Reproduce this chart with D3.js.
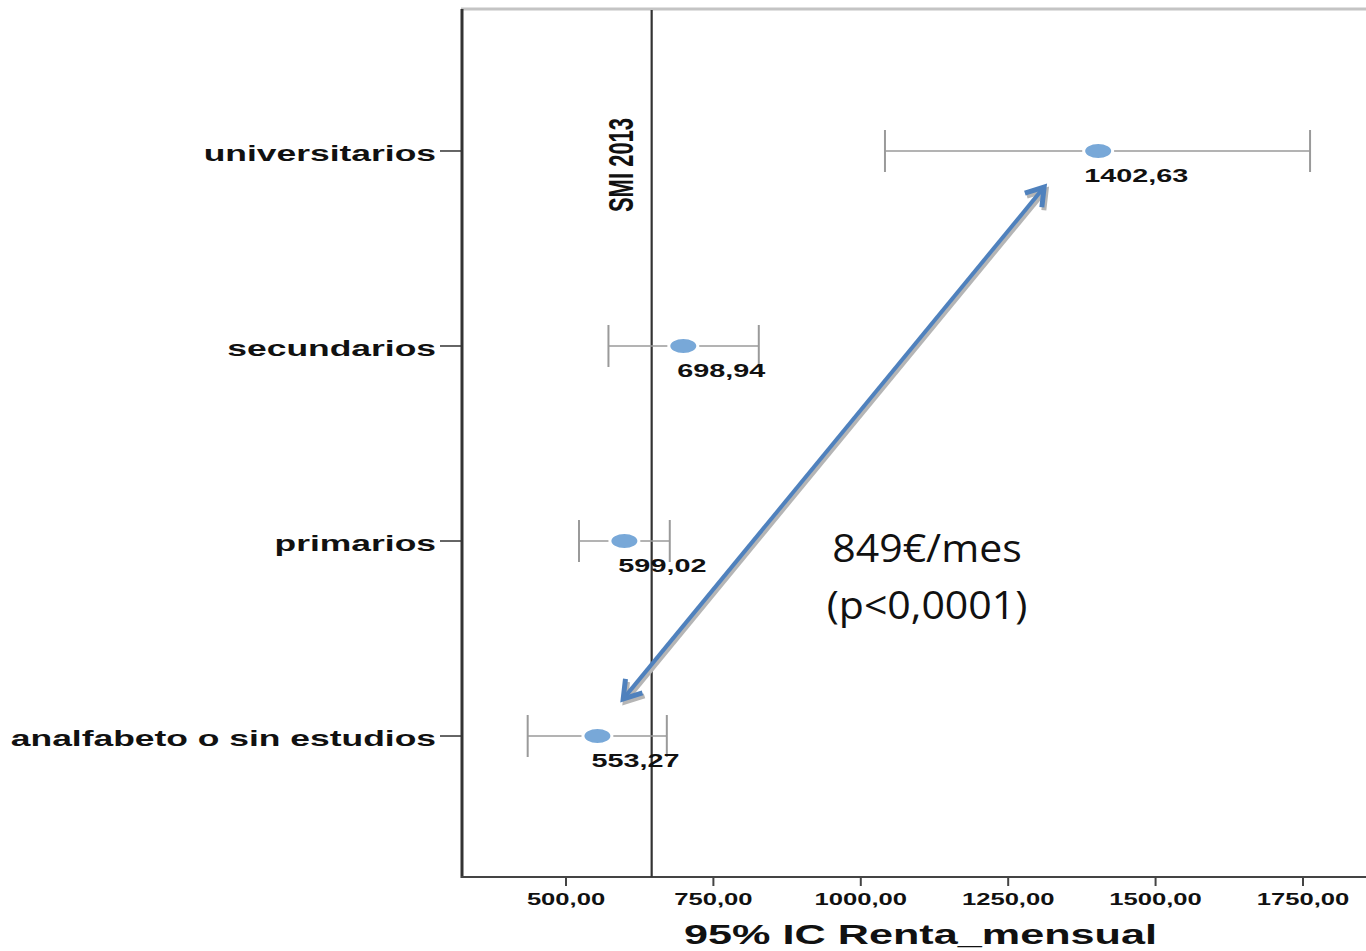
<!DOCTYPE html>
<html><head><meta charset="utf-8">
<script src="https://cdn.jsdelivr.net/npm/d3@7"></script>
<style>body{margin:0;background:#fff;}svg{display:block;}</style>
</head><body>
<svg id="c" width="1366" height="951"></svg>
<script>
// ---- data ----
const categories = ["universitarios", "secundarios", "primarios", "analfabeto o sin estudios"];
const means = [1402.63, 698.94, 599.02, 553.27];
const meanLabels = ["1402,63", "698,94", "599,02", "553,27"];
const ciLow = [1041, 572, 522, 435];
const ciHigh = [1762, 827, 676, 671];
const xTicks = [500, 750, 1000, 1250, 1500, 1750];
const xTickLabels = ["500,00", "750,00", "1000,00", "1250,00", "1500,00", "1750,00"];
const smiValue = 645.30;
const smiLabel = "SMI 2013";
const xTitle = "95% IC Renta_mensual";
const noteLines = ["849€/mes", "(p<0,0001)"];
const arrowFromX = 1311, arrowToX = 597;

// ---- layout ----
const svg = d3.select("#c");
const L = 461, R = 1366, T = 10, B = 877;
const K = 1.6; // horizontal stretch of the original picture
const x = d3.scaleLinear().domain([321.9, 1856.9]).range([L, R]);
const y = d3.scalePoint().domain(categories).range([T, B]).padding(0.723);
const step = y.step();
const fontS = "'Liberation Sans', Arial, sans-serif";

function stretchedText(g, tx, ty, txt, size, anchor, k) {
  return g.append("text")
    .attr("transform", `translate(${tx},${ty}) scale(${k || K},1)`)
    .attr("font-family", fontS).attr("font-weight", "bold")
    .attr("font-size", size).attr("fill", "#111")
    .attr("text-anchor", anchor).text(txt);
}

// frame
svg.append("line").attr("x1", L).attr("x2", R).attr("y1", T - 1).attr("y2", T - 1)
  .attr("stroke", "#c4c4c4").attr("stroke-width", 3);
svg.append("line").attr("x1", L + 1).attr("x2", L + 1).attr("y1", T - 1).attr("y2", B + 1)
  .attr("stroke", "#333").attr("stroke-width", 3);
svg.append("line").attr("x1", L).attr("x2", R).attr("y1", B).attr("y2", B)
  .attr("stroke", "#444").attr("stroke-width", 2);

// SMI line
svg.append("line").attr("x1", x(smiValue)).attr("x2", x(smiValue)).attr("y1", T).attr("y2", B)
  .attr("stroke", "#333").attr("stroke-width", 2.2);
svg.append("text")
  .attr("transform", `translate(${x(smiValue) - 19},${y(categories[0]) + 14}) scale(${K},1) rotate(-90)`)
  .attr("font-family", fontS).attr("font-weight", "bold").attr("font-size", 22)
  .attr("fill", "#111").attr("text-anchor", "middle").text(smiLabel);

// x axis
const xg = svg.append("g");
xTicks.forEach((v, i) => {
  xg.append("line").attr("x1", x(v)).attr("x2", x(v)).attr("y1", B).attr("y2", B + 9)
    .attr("stroke", "#444").attr("stroke-width", 2);
  stretchedText(xg, x(v), B + 28, xTickLabels[i], 16, "middle");
});
stretchedText(svg, (L + R) / 2 + 7, B + 67, xTitle, 27, "middle");

// y axis categories
categories.forEach((c, i) => {
  svg.append("line").attr("x1", L - 21).attr("x2", L).attr("y1", y(c)).attr("y2", y(c))
    .attr("stroke", "#333").attr("stroke-width", 1.5);
  stretchedText(svg, L - 25, y(c) + 10, c, 22.5, "end", 1.575);
});

// error bars
const eb = svg.append("g");
categories.forEach((c, i) => {
  const yy = y(c);
  eb.append("line").attr("x1", x(ciLow[i])).attr("x2", x(ciHigh[i])).attr("y1", yy).attr("y2", yy)
    .attr("stroke", "#9a9a9a").attr("stroke-width", 1.6);
  [ciLow[i], ciHigh[i]].forEach(v => {
    eb.append("line").attr("x1", x(v)).attr("x2", x(v)).attr("y1", yy - 21).attr("y2", yy + 21)
      .attr("stroke", "#9a9a9a").attr("stroke-width", 2);
  });
  eb.append("ellipse").attr("cx", x(means[i])).attr("cy", yy).attr("rx", 14.5).attr("ry", 8.5)
    .attr("fill", "#78a8d8").attr("stroke", "#fff").attr("stroke-width", 3);
  stretchedText(eb, x(means[i]) + 38, yy + 31, meanLabels[i], 18, "middle");
});

// arrow
const ax1 = x(arrowFromX), ay1 = y(categories[0]) + 0.185 * step;
const ax2 = x(arrowToX), ay2 = y(categories[3]) - 0.19 * step;
function drawArrow(g, dx, dy, color) {
  const ang = Math.atan2(ay2 - ay1, ax2 - ax1);
  const hl = 17, hw = 11;
  const head = (px, py, a) => {
    const bx = px - hl * Math.cos(a), by = py - hl * Math.sin(a);
    const nx = -Math.sin(a), ny = Math.cos(a);
    return `M${bx + nx * hw},${by + ny * hw} L${px},${py} L${bx - nx * hw},${by - ny * hw}`;
  };
  const sh = 3;
  g.append("line")
    .attr("x1", ax1 + dx + sh * Math.cos(ang)).attr("y1", ay1 + dy + sh * Math.sin(ang))
    .attr("x2", ax2 + dx - sh * Math.cos(ang)).attr("y2", ay2 + dy - sh * Math.sin(ang))
    .attr("stroke", color).attr("stroke-width", 4);
  g.append("path").attr("d", head(ax2 + dx, ay2 + dy, ang))
    .attr("fill", "none").attr("stroke", color).attr("stroke-width", 5).attr("stroke-linejoin", "miter");
  g.append("path").attr("d", head(ax1 + dx, ay1 + dy, ang + Math.PI))
    .attr("fill", "none").attr("stroke", color).attr("stroke-width", 5).attr("stroke-linejoin", "miter");
}
const ag = svg.append("g");
drawArrow(ag, 2, 3, "#b5b5b5");
drawArrow(ag, 0, 0, "#4f81bd");

// annotation
const note = svg.append("g");
noteLines.forEach((s, i) => {
  note.append("text")
    .attr("transform", `translate(927,${562 + i * 57}) scale(1.08,1)`)
    .attr("font-family", "'Open Sans', 'Noto Sans', sans-serif")
    .attr("font-size", 38).attr("fill", "#111").attr("text-anchor", "middle").text(s);
});
</script>
</body></html>
